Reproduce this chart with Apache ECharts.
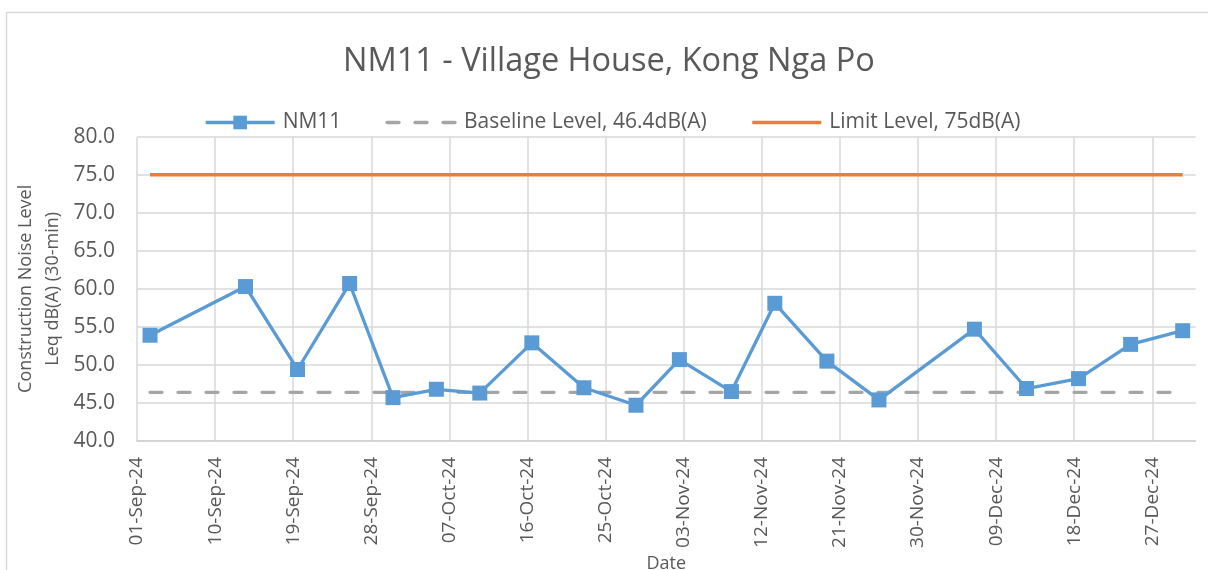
<!DOCTYPE html>
<html>
<head>
<meta charset="utf-8">
<script src="https://cdn.jsdelivr.net/npm/echarts@6/dist/echarts.min.js"></script>
<style>
html,body{margin:0;padding:0;background:#fff;}
#chart{width:1208px;height:570px;}
</style>
</head>
<body>
<div id="chart"></div>
<script>
// ---- data ----
const titleText = 'NM11 - Village House, Kong Nga Po';
const seriesNames = ['NM11', 'Baseline Level, 46.4dB(A)', 'Limit Level, 75dB(A)'];
const dates = ['2024-09-02','2024-09-13','2024-09-19','2024-09-25','2024-09-30',
               '2024-10-05','2024-10-10','2024-10-16','2024-10-22','2024-10-28',
               '2024-11-02','2024-11-08','2024-11-13','2024-11-19','2024-11-25',
               '2024-12-06','2024-12-12','2024-12-18','2024-12-24','2024-12-30'];
const nm11 = [53.9, 60.3, 49.4, 60.7, 45.7, 46.8, 46.3, 52.9, 47.0, 44.7,
              50.7, 46.5, 58.1, 50.5, 45.4, 54.7, 46.9, 48.2, 52.7, 54.5];
const baseline = [46.4, 46.4, 46.4, 46.4, 46.4, 46.4, 46.4, 46.4, 46.4, 46.4,
                  46.4, 46.4, 46.4, 46.4, 46.4, 46.4, 46.4, 46.4, 46.4, 46.4];
const limit = [75, 75, 75, 75, 75, 75, 75, 75, 75, 75,
               75, 75, 75, 75, 75, 75, 75, 75, 75, 75];
const axisStart = '2024-09-01';
const axisEnd = '2025-01-01';
const tickDays = 9;
const yMin = 40, yMax = 80, yStep = 5;
const xAxisName = 'Date';
const yAxisName = 'Construction Noise Level\nLeq dB(A) (30-min)';

// ---- helpers ----
const DAY = 86400000;
const t0 = Date.parse(axisStart + 'T00:00:00Z');
const dayOf = s => (Date.parse(s + 'T00:00:00Z') - t0) / DAY;
// Excel date axis places each date in the middle of its day slot
const pos = s => dayOf(s) + 0.5;
const MONTHS = ['Jan','Feb','Mar','Apr','May','Jun','Jul','Aug','Sep','Oct','Nov','Dec'];
function fmtDay(v) {
  const d = new Date(t0 + Math.round(v) * DAY);
  const dd = String(d.getUTCDate()).padStart(2, '0');
  return dd + '-' + MONTHS[d.getUTCMonth()] + '-' + String(d.getUTCFullYear()).slice(2);
}
const pair = arr => dates.map((s, i) => [pos(s), arr[i]]);

const FONT = '"Open Sans", "Noto Sans", sans-serif';
const TXT = '#595959';
const C_NM = '#5B9BD5', C_BASE = '#A5A5A5', C_LIM = '#ED7D31';

const chart = echarts.init(document.getElementById('chart'), null, {renderer: 'canvas'});
chart.setOption({
  animation: false,
  backgroundColor: '#ffffff',
  textStyle: {fontFamily: FONT, color: TXT},
  graphic: [{
    type: 'rect', silent: true, z: -1,
    shape: {x: 6.5, y: 12.5, width: 1400, height: 800},
    style: {fill: 'none', stroke: '#D9D9D9', lineWidth: 1.5}
  }],
  title: {
    text: titleText, left: 338, top: 40,
    textStyle: {fontFamily: FONT, fontSize: 32.5, fontWeight: 'normal', color: TXT}
  },
  legend: {
    left: 204, top: 112, padding: 0,
    itemWidth: 69, itemHeight: 17, itemGap: 44,
    textStyle: {fontFamily: FONT, fontSize: 21, color: TXT, padding: [0, 0, 0, 3]},
    data: [
      {name: seriesNames[0], lineStyle: {width: 3.3, color: C_NM}},
      {name: seriesNames[1], itemStyle: {opacity: 0}, lineStyle: {width: 3.3, color: C_BASE, type: [12, 16], cap: 'round'}},
      {name: seriesNames[2], itemStyle: {opacity: 0}, lineStyle: {width: 3.3, color: C_LIM}}
    ]
  },
  grid: {left: 137, top: 136.7, right: 12.3, bottom: 129, containLabel: false, outerBoundsMode: 'none'},
  xAxis: {
    type: 'value', min: 0, max: dayOf(axisEnd), interval: tickDays,
    name: xAxisName, nameLocation: 'middle', nameGap: 114, nameMoveOverlap: false,
    nameTextStyle: {fontFamily: FONT, fontSize: 18, color: TXT},
    axisLine: {show: true, lineStyle: {color: '#CFCFCF', width: 1.5}},
    axisTick: {show: false},
    axisLabel: {
      rotate: 90, margin: 16, formatter: fmtDay, showMaxLabel: false,
      fontFamily: FONT, fontSize: 19, color: TXT
    },
    splitLine: {show: true, showMaxLine: false, lineStyle: {color: '#D9D9D9', width: 1.5}}
  },
  yAxis: {
    type: 'value', min: yMin, max: yMax, interval: yStep,
    name: yAxisName, nameLocation: 'middle', nameGap: 71, nameRotate: 90, nameMoveOverlap: false,
    nameTextStyle: {fontFamily: FONT, fontSize: 18, color: TXT, lineHeight: 27},
    axisLine: {show: false},
    axisTick: {show: false},
    axisLabel: {
      margin: 22, formatter: v => v.toFixed(1),
      fontFamily: FONT, fontSize: 21, color: TXT
    },
    splitLine: {show: true, lineStyle: {color: '#D9D9D9', width: 1.5}}
  },
  series: [
    {
      name: seriesNames[0], type: 'line', data: pair(nm11), z: 5,
      symbol: 'rect', symbolSize: 15,
      lineStyle: {color: C_NM, width: 3.3},
      itemStyle: {color: C_NM}
    },
    {
      name: seriesNames[1], type: 'line', data: pair(baseline), z: 3,
      symbol: 'none',
      lineStyle: {color: C_BASE, width: 3.3, type: [12, 16], cap: 'round'},
      itemStyle: {color: C_BASE}
    },
    {
      name: seriesNames[2], type: 'line', data: pair(limit), z: 3,
      symbol: 'none',
      lineStyle: {color: C_LIM, width: 3.3},
      itemStyle: {color: C_LIM}
    }
  ]
});
</script>
</body>
</html>
